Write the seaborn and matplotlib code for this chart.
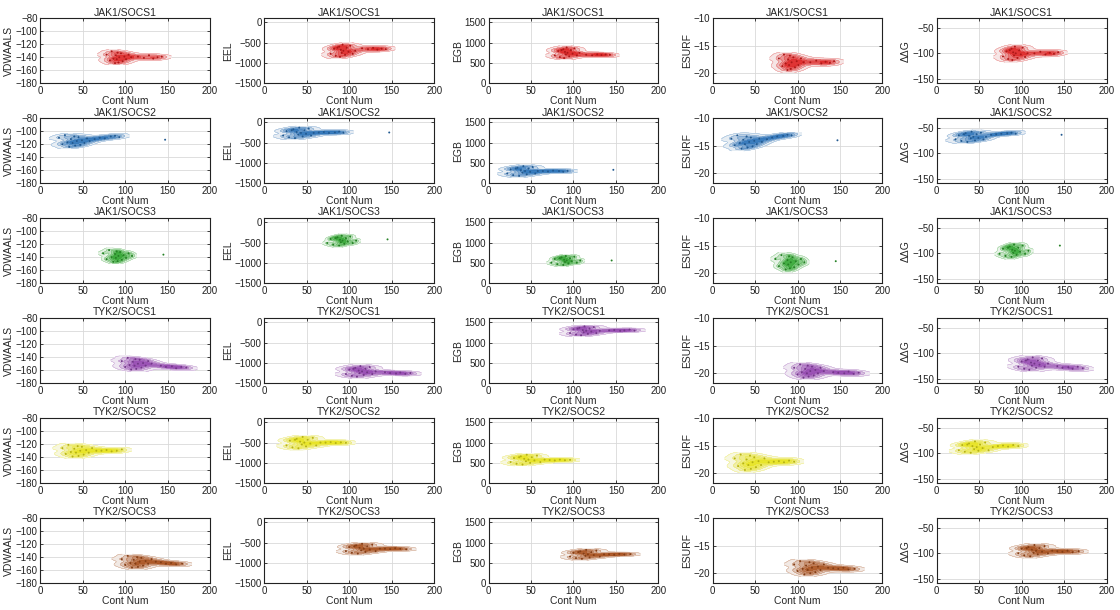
import numpy as np
import pandas as pd
import matplotlib
matplotlib.use("Agg")
import matplotlib.pyplot as plt
import seaborn as sns

# ---------------- data ----------------
titles = ["JAK1/SOCS1", "JAK1/SOCS2", "JAK1/SOCS3", "TYK2/SOCS1", "TYK2/SOCS2", "TYK2/SOCS3"]
colors = ["#de1f1f", "#2a72b8", "#2fa52f", "#9446b0", "#e8e41a", "#a9501c"]
ylabels = ["VDWAALS", "EEL", "EGB", "ESURF", "ΔΔG"]
x_ticks = [0, 50, 100, 150, 200]

# JAK1/SOCS1
js1_cont = [78, 82, 84, 86, 88, 89, 90, 91, 92, 93, 95, 97, 99, 101, 104, 107, 115, 122, 128, 133, 138, 143]
js1_vdw = [-136, -145, -131, -142, -149, -137, -143, -133, -148, -140, -134, -146, -139, -143, -136, -140, -139, -141, -137, -142, -140, -139]
js1_eel = [-775, -650, -825, -625, -600, -850, -675, -750, -550, -700, -800, -625, -725, -575, -775, -700, -640, -660, -630, -670, -650, -660]
js1_egb = [685, 793, 642, 815, 837, 620, 772, 707, 880, 750, 663, 815, 728, 858, 685, 750, 700, 690, 710, 695, 705, 700]
js1_esurf = [-17.3, -18.7, -16.6, -18.2, -19.4, -17.5, -18.5, -16.8, -19.2, -18.0, -17.1, -18.9, -17.8, -18.5, -17.3, -18.0, -18.0, -17.7, -18.2, -17.9, -18.1, -17.8]
js1_ddg = [-106, -96, -111, -94, -91, -113, -98, -104, -87, -100, -109, -94, -102, -89, -107, -100, -100, -97, -102, -99, -101, -98]

# JAK1/SOCS2
js2_cont = [22, 26, 29, 32, 34, 36, 38, 40, 41, 43, 45, 47, 49, 52, 55, 58, 64, 70, 76, 83, 88, 93]
js2_vdw = [-110, -120, -106, -117, -124, -112, -118, -108, -122, -115, -109, -121, -114, -118, -111, -115, -112, -110, -111, -108, -107, -109]
js2_eel = [-325, -217, -368, -195, -173, -390, -238, -303, -130, -260, -347, -195, -282, -152, -325, -260, -250, -240, -260, -250, -230, -255]
js2_egb = [240, 340, 200, 360, 380, 180, 320, 260, 420, 300, 220, 360, 280, 400, 240, 300, 300, 290, 310, 300, 285, 305]
js2_esurf = [-13.7, -14.9, -13.1, -14.5, -15.5, -13.9, -14.7, -13.3, -15.3, -14.3, -13.5, -15.1, -14.1, -14.7, -13.7, -14.3, -13.8, -13.5, -13.3, -13.2, -13.0, -13.1]
js2_ddg = [-73, -65, -76, -63, -61, -78, -66, -71, -58, -68, -75, -63, -70, -60, -73, -68, -64, -63, -62, -61, -60, -62]
js2_out_cont = [147]
js2_out_vals = [-113, -250, 330, -14.0, -64]

# JAK1/SOCS3
js3_cont = [74, 78, 81, 84, 86, 88, 89, 90, 91, 92, 94, 96, 98, 101, 104, 108]
js3_vdw = [-134, -143, -129, -140, -147, -135, -141, -131, -146, -138, -132, -144, -137, -141, -134, -138]
js3_eel = [-510, -410, -550, -390, -370, -570, -430, -490, -330, -450, -530, -390, -470, -350, -510, -450]
js3_egb = [505, 597, 468, 615, 633, 450, 578, 523, 670, 560, 487, 615, 542, 652, 505, 560]
js3_esurf = [-17.4, -18.7, -16.7, -18.2, -19.3, -17.6, -18.4, -16.9, -19.1, -18.0, -17.1, -18.9, -17.8, -18.4, -17.4, -18.0]
js3_ddg = [-101, -91, -105, -89, -87, -107, -93, -99, -83, -95, -103, -89, -97, -85, -101, -95]
js3_out_cont = [145]
js3_out_vals = [-136, -420, 560, -17.8, -85]

# TYK2/SOCS1
ts1_cont = [96, 100, 103, 105, 107, 109, 111, 112, 113, 115, 117, 119, 121, 124, 127, 131, 142, 148, 155, 160, 166, 172]
ts1_vdw = [-146, -155, -141, -152, -159, -147, -153, -143, -158, -150, -144, -156, -149, -153, -146, -150, -153, -155, -154, -157, -155, -156]
ts1_eel = [-1275, -1167, -1318, -1145, -1123, -1340, -1188, -1253, -1080, -1210, -1297, -1145, -1232, -1102, -1275, -1210, -1230, -1250, -1260, -1240, -1270, -1250]
ts1_egb = [1235, 1327, 1198, 1345, 1363, 1180, 1308, 1253, 1400, 1290, 1217, 1345, 1272, 1382, 1235, 1290, 1300, 1310, 1290, 1300, 1320, 1295]
ts1_esurf = [-19.0, -20.2, -18.4, -19.8, -20.8, -19.2, -20.0, -18.6, -20.6, -19.6, -18.8, -20.4, -19.4, -20.0, -19.0, -19.6, -19.8, -19.9, -20.0, -19.7, -20.1, -19.9]
ts1_ddg = [-126, -116, -130, -114, -112, -132, -118, -124, -108, -120, -128, -114, -122, -110, -126, -120, -125, -128, -127, -130, -126, -129]

# TYK2/SOCS2
ts2_cont = [26, 30, 33, 36, 38, 40, 42, 44, 45, 47, 49, 51, 54, 57, 61, 66, 72, 78, 84, 90, 96]
ts2_vdw = [-126, -135, -121, -132, -139, -127, -133, -123, -138, -130, -124, -136, -129, -133, -126, -130, -130, -129, -131, -130, -128]
ts2_eel = [-570, -453, -617, -430, -407, -640, -477, -547, -360, -500, -593, -430, -523, -383, -570, -500, -500, -490, -510, -495, -505]
ts2_egb = [520, 620, 480, 640, 660, 460, 600, 540, 700, 580, 500, 640, 560, 680, 520, 580, 570, 560, 580, 565, 575]
ts2_esurf = [-17.3, -18.7, -16.6, -18.2, -19.4, -17.5, -18.5, -16.8, -19.2, -18.0, -17.1, -18.9, -17.8, -18.5, -17.3, -18.0, -17.9, -17.8, -18.0, -17.7, -17.9]
ts2_ddg = [-94, -84, -97, -83, -81, -99, -86, -92, -77, -88, -95, -83, -90, -79, -94, -88, -86, -85, -87, -84, -86]

# TYK2/SOCS3
ts3_cont = [96, 100, 103, 106, 108, 110, 112, 114, 115, 117, 119, 121, 124, 127, 131, 136, 142, 148, 154, 160, 167]
ts3_vdw = [-143, -152, -138, -149, -156, -144, -150, -140, -155, -147, -141, -153, -146, -150, -143, -147, -148, -150, -149, -151, -150]
ts3_eel = [-710, -610, -750, -590, -570, -770, -630, -690, -530, -650, -730, -590, -670, -550, -710, -650, -650, -660, -640, -655, -665]
ts3_egb = [655, 747, 618, 765, 783, 600, 728, 673, 820, 710, 637, 765, 692, 802, 655, 710, 710, 700, 720, 705, 715]
ts3_esurf = [-18.4, -19.6, -17.8, -19.2, -20.2, -18.6, -19.4, -18.0, -20.0, -19.0, -18.2, -19.8, -18.8, -19.4, -18.4, -19.0, -19.1, -19.2, -19.0, -19.3, -19.2]
ts3_ddg = [-100, -91, -104, -90, -88, -106, -93, -99, -84, -95, -102, -90, -97, -86, -100, -95, -96, -97, -95, -98, -96]

cont_all = [js1_cont, js2_cont, js3_cont, ts1_cont, ts2_cont, ts3_cont]
energy_all = [
    [js1_vdw, js1_eel, js1_egb, js1_esurf, js1_ddg],
    [js2_vdw, js2_eel, js2_egb, js2_esurf, js2_ddg],
    [js3_vdw, js3_eel, js3_egb, js3_esurf, js3_ddg],
    [ts1_vdw, ts1_eel, ts1_egb, ts1_esurf, ts1_ddg],
    [ts2_vdw, ts2_eel, ts2_egb, ts2_esurf, ts2_ddg],
    [ts3_vdw, ts3_eel, ts3_egb, ts3_esurf, ts3_ddg],
]
outliers = {1: (js2_out_cont, js2_out_vals), 2: (js3_out_cont, js3_out_vals)}

# ---------------- styling ----------------
sns.set_theme(style="ticks")
plt.rcParams['font.family'] = ['Liberation Sans', 'DejaVu Sans']

y_limits = [(-180, -80), (-1500, 100), (0, 1600), (-21.8, -10), (-158, -32)]
y_ticks = [[-180, -160, -140, -120, -100, -80], [-1500, -1000, -500, 0],
           [0, 500, 1000, 1500], [-20, -15, -10], [-150, -100, -50]]

fig, axes = plt.subplots(6, 5, figsize=(11.2, 6.1), dpi=100)
fig.subplots_adjust(left=0.036, right=0.988, top=0.970, bottom=0.044, wspace=0.32, hspace=0.54)

for r in range(6):
    col = colors[r]
    lp = sns.light_palette(col, n_colors=10)
    cmap = sns.blend_palette(["#fcfcfc", lp[2], lp[5], col], as_cmap=True)
    dot = sns.blend_palette([col, "#000000"], n_colors=10)[2]
    for c in range(5):
        ax = axes[r, c]
        df = pd.DataFrame({"x": cont_all[r], "y": energy_all[r][c]})
        sns.kdeplot(data=df, x="x", y="y", fill=True, cmap=cmap, levels=7, thresh=0.04,
                    bw_adjust=0.8, cut=1.2, alpha=1.0, ax=ax)
        sns.kdeplot(data=df, x="x", y="y", fill=False, color=col, levels=7, thresh=0.04,
                    bw_adjust=0.8, cut=1.2, linewidths=0.3, alpha=0.55, ax=ax)
        sns.scatterplot(data=df, x="x", y="y", s=2, color=dot, edgecolor="none",
                        linewidth=0, ax=ax, zorder=5)
        if r in outliers:
            ox, ov = outliers[r]
            sns.scatterplot(x=ox, y=[ov[c]], s=2, color=dot, edgecolor="none",
                            linewidth=0, ax=ax, zorder=5)
        ax.set_xlim(0, 200)
        ax.set_ylim(*y_limits[c])
        ax.set_xticks(x_ticks)
        ax.set_yticks(y_ticks[c])
        ax.grid(True, color="#d9d9d9", linewidth=0.6)
        ax.set_axisbelow(True)
        ax.tick_params(direction="in", top=True, right=True, length=2.5, width=0.6,
                       labelsize=7, pad=2, colors="#222222")
        for sp in ax.spines.values():
            sp.set_color("#222222")
            sp.set_linewidth(0.8)
        ax.set_xlabel("Cont Num", fontsize=7.5, labelpad=0)
        ax.set_ylabel(ylabels[c], fontsize=7.5, labelpad=1)
        ax.set_title(titles[r], fontsize=7.5, pad=2)

fig.savefig("out.png", dpi=100)
